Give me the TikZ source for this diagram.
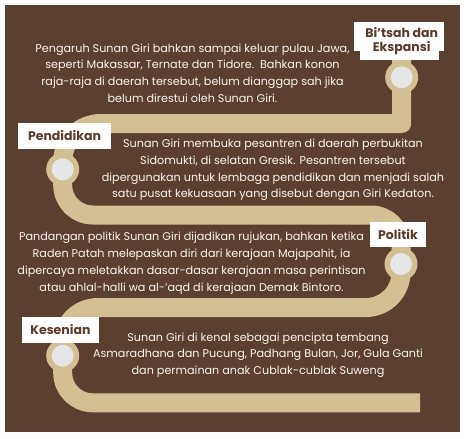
\documentclass[tikz,border=0pt]{standalone}
\usepackage{fontspec}
\setmainfont{Poppins}
\definecolor{bgbrown}{HTML}{5B3F30}
\definecolor{road}{HTML}{D2C093}
\definecolor{dot}{HTML}{E6E6E6}
\definecolor{labtext}{HTML}{5A3A2A}
\definecolor{bodytext}{HTML}{FAF6EF}
\begin{document}
\begin{tikzpicture}[x=1pt,y=-1pt,
  body/.style={text=bodytext, align=center, inner sep=0pt,
    font=\fontsize{11.2pt}{16.7pt}\selectfont},
  labelbox/.style={fill=white, text=labtext, inner sep=0pt,
    font=\fontsize{12.5pt}{13.7pt}\selectfont\bfseries},
  ring/.style={circle, fill=road, minimum size=33pt, inner sep=0pt},
  dotc/.style={circle, fill=dot, minimum size=22pt, inner sep=0pt},
  roadline/.style={draw=road, line width=19pt, line cap=butt, line join=round}]
\useasboundingbox (0,0) rectangle (466,439);
\fill[white] (0,0) rectangle (466,439);
\fill[bgbrown] (4.5,5) rectangle (459.5,431.5);
% coordinates of the stops
\coordinate (c1) at (401.7,77.3);
\coordinate (c2) at (62.7,169.3);
\coordinate (c3) at (401,264);
\coordinate (c4) at (62.7,355.7);
\coordinate (start) at (401.7,52);
\coordinate (finish) at (420,402.8);
% road
\draw[roadline] (start) -- (401.7,123.5) [rounded corners=38pt] -- (62.7,123.5) [rounded corners=30pt]
  -- (62.7,215) -- (401,215) [rounded corners=35pt] -- (401,307.5) -- (62.7,307.5) [rounded corners=30pt]
  -- (62.7,402.8) -- (finish);
% stops
\foreach \c in {c1,c2,c3,c4}{
  \node[ring] (r\c) at (\c) {};
  \node[dotc] (d\c) at (\c) {};
}
% labels
\fill[white] (354,21.7) rectangle (444,51);
\fill[white] (359.5,40) rectangle (439,60);
\node[text=labtext, align=center, inner sep=0pt, font=\fontsize{12.5pt}{13.7pt}\selectfont\bfseries] (l1) at (401.7,41.2) {Bi’tsah dan\\Ekspansi};
\node[labelbox, minimum width=93pt, minimum height=26pt] (l2) at (64.5,136) {Pendidikan};
\node[labelbox, minimum width=56pt, minimum height=25pt] (l3) at (398,234.2) {Politik};
\node[labelbox, minimum width=77.3pt, minimum height=25.7pt] (l4) at (60.4,329.9) {Kesenian};
% texts
\node[body] (t1) at (192.5,73) {Pengaruh Sunan Giri bahkan sampai keluar pulau Jawa,\\seperti Makassar, Ternate dan Tidore.\ \ Bahkan konon\\raja-raja di daerah tersebut, belum dianggap sah jika\\belum direstui oleh Sunan Giri.};
\node[body] (t2) at (273,170) {Sunan Giri membuka pesantren di daerah perbukitan\\Sidomukti, di selatan Gresik. Pesantren tersebut\\dipergunakan untuk lembaga pendidikan dan menjadi salah\\satu pusat kekuasaan yang disebut dengan Giri Kedaton.};
\node[body] (t3) at (191.5,263.2) {Pandangan politik Sunan Giri dijadikan rujukan, bahkan ketika\\Raden Patah melepaskan diri dari kerajaan Majapahit, ia\\dipercaya meletakkan dasar-dasar kerajaan masa perintisan\\atau ahlal-halli wa al-’aqd di kerajaan Demak Bintoro.};
\node[body] (t4) at (258,355) {Sunan Giri di kenal sebagai pencipta tembang\\Asmaradhana dan Pucung, Padhang Bulan, Jor, Gula Ganti\\dan permainan anak Cublak-cublak Suweng};
\end{tikzpicture}
\end{document}
